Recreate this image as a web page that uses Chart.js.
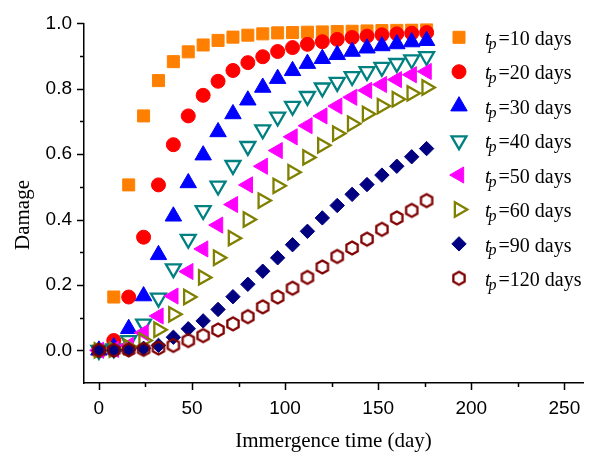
<!DOCTYPE html>
<html>
<head>
<meta charset="utf-8">
<script src="https://cdn.jsdelivr.net/npm/chart.js@4.4.1/dist/chart.umd.min.js"></script>
<style>
html,body{margin:0;padding:0;background:#fff;}
#wrap{width:601px;height:453px;position:relative;}
</style>
</head>
<body>
<div id="wrap"><canvas id="c" width="601" height="453"></canvas></div>
<script>
// ---- data ----
const days = [0,8,16,24,32,40,48,56,64,72,80,88,96,104,112,120,128,136,144,152,160,168,176];
const tpDays = [10,20,30,40,50,60,90,120];
const tp10  = [0,0.163,0.506,0.717,0.825,0.883,0.913,0.934,0.948,0.958,0.964,0.968,0.971,0.972,0.973,0.974,0.975,0.976,0.977,0.978,0.979,0.980,0.981];
const tp20  = [0,0.030,0.163,0.346,0.506,0.629,0.717,0.780,0.823,0.856,0.880,0.898,0.914,0.926,0.936,0.944,0.951,0.957,0.961,0.965,0.968,0.970,0.972];
const tp30  = [0,0.010,0.066,0.166,0.292,0.410,0.512,0.597,0.668,0.723,0.765,0.804,0.831,0.855,0.877,0.892,0.904,0.914,0.924,0.931,0.937,0.943,0.947];
const tp40  = [0,0.005,0.030,0.081,0.160,0.250,0.340,0.428,0.503,0.566,0.624,0.675,0.714,0.747,0.777,0.803,0.820,0.838,0.853,0.866,0.878,0.889,0.899];
const tp50  = [0,0.003,0.015,0.054,0.105,0.166,0.241,0.310,0.383,0.446,0.506,0.563,0.611,0.653,0.687,0.717,0.747,0.774,0.795,0.813,0.828,0.843,0.853];
const tp60  = [0,0.002,0.010,0.030,0.063,0.110,0.163,0.223,0.283,0.343,0.400,0.458,0.503,0.545,0.590,0.627,0.663,0.693,0.723,0.747,0.768,0.786,0.804];
const tp90  = [0,0,0.002,0.006,0.015,0.040,0.066,0.090,0.125,0.164,0.202,0.242,0.283,0.323,0.364,0.405,0.443,0.477,0.507,0.536,0.563,0.592,0.617];
const tp120 = [0,0,0.001,0.003,0.007,0.015,0.030,0.045,0.062,0.081,0.103,0.133,0.163,0.190,0.223,0.255,0.287,0.313,0.340,0.370,0.405,0.428,0.458];
const xMajorTicks = [0,50,100,150,200,250];
const xMinorTicks = [25,75,125,175,225];
const yMajorTicks = [0.0,0.2,0.4,0.6,0.8,1.0];
const yMinorTicks = [0.1,0.3,0.5,0.7,0.9];
const xTitle = 'Immergence time (day)';
const yTitle = 'Damage';

// ---- styles ----
function makeHex(R, color, lw){
  const s = 20;
  const c = document.createElement('canvas');
  c.width = s; c.height = s;
  const g = c.getContext('2d');
  g.strokeStyle = color; g.lineWidth = lw; g.lineJoin = 'miter';
  g.beginPath();
  for (let i = 0; i < 6; i++) {
    const a = -Math.PI/2 + i*Math.PI/3;
    const px = s/2 + R*Math.cos(a), py = s/2 + R*Math.sin(a);
    if (i) g.lineTo(px, py); else g.moveTo(px, py);
  }
  g.closePath(); g.stroke();
  return c;
}
const hexImg = makeHex(6.5, '#800000', 2.3);

const seriesValues = [tp10, tp20, tp30, tp40, tp50, tp60, tp90, tp120];
const markerStyles = [
  {style:'rect', rot:0, r:8.5, fill:'#FF8000', stroke:'#FF8000', bw:1},
  {style:'circle', rot:0, r:7.0, fill:'#FF0000', stroke:'#FF0000', bw:1},
  {style:'triangle', rot:0, r:9.5, fill:'#0000FF', stroke:'#0000FF', bw:1},
  {style:'triangle', rot:180, r:8.6, fill:'rgba(0,0,0,0)', stroke:'#008080', bw:2.3},
  {style:'triangle', rot:270, r:9.3, fill:'#FF00FF', stroke:'#FF00FF', bw:1},
  {style:'triangle', rot:90, r:8.3, fill:'rgba(0,0,0,0)', stroke:'#808000', bw:2.3},
  {style:'rectRot', rot:0, r:7.2, fill:'#000080', stroke:'#000080', bw:1},
  {style:hexImg, rot:0, r:7, fill:'rgba(0,0,0,0)', stroke:'#800000', bw:0}
];

const datasets = seriesValues.map((vals, i) => {
  const m = markerStyles[i];
  return {
    label: 'tp=' + tpDays[i] + ' days',
    data: days.map((d, j) => ({x: d, y: vals[j]})),
    showLine: false,
    pointStyle: m.style,
    pointRotation: m.rot,
    pointRadius: m.r,
    pointHoverRadius: m.r,
    pointBackgroundColor: m.fill,
    pointBorderColor: m.stroke,
    pointBorderWidth: m.bw,
    order: seriesValues.length - i
  };
});

const SANS = '"Liberation Sans", Arial, sans-serif';
const SERIF = '"Liberation Serif", "Times New Roman", serif';

const decoPlugin = {
  id: 'deco',
  afterDraw(chart) {
    const ctx = chart.ctx;
    const xs = chart.scales.x, ys = chart.scales.y;
    const left = chart.chartArea.left, bottom = chart.chartArea.bottom;
    ctx.save();
    ctx.strokeStyle = '#000'; ctx.lineWidth = 1.5;
    ctx.beginPath();
    yMajorTicks.forEach(v => { const p = Math.round(ys.getPixelForValue(v)) + 0.5; ctx.moveTo(left, p); ctx.lineTo(left - 7, p); });
    yMinorTicks.forEach(v => { const p = Math.round(ys.getPixelForValue(v)) + 0.5; ctx.moveTo(left, p); ctx.lineTo(left - 4, p); });
    xMajorTicks.forEach(v => { const p = Math.round(xs.getPixelForValue(v)) + 0.5; ctx.moveTo(p, bottom); ctx.lineTo(p, bottom + 7); });
    xMinorTicks.forEach(v => { const p = Math.round(xs.getPixelForValue(v)) + 0.5; ctx.moveTo(p, bottom); ctx.lineTo(p, bottom + 4); });
    ctx.stroke();

    // axis titles
    ctx.fillStyle = '#000';
    ctx.font = '21px ' + SERIF;
    ctx.textAlign = 'center'; ctx.textBaseline = 'alphabetic';
    ctx.fillText(xTitle, (chart.chartArea.left + chart.chartArea.right) / 2, 447);
    ctx.save();
    ctx.translate(29, 215);
    ctx.rotate(-Math.PI / 2);
    ctx.fillText(yTitle, 0, 0);
    ctx.restore();

    // legend
    chart.data.datasets.forEach((ds, i) => {
      const cy = 37.3 + i * 34.43;
      const mx = 459;
      const m = markerStyles[i];
      ctx.save();
      ctx.fillStyle = m.fill; ctx.strokeStyle = m.stroke; ctx.lineWidth = m.bw;
      if (Chart.helpers && Chart.helpers.drawPoint) {
        Chart.helpers.drawPoint(ctx, {pointStyle: m.style, rotation: m.rot, radius: m.r, borderWidth: m.bw}, mx, cy);
      }
      ctx.restore();
      ctx.fillStyle = '#000'; ctx.textAlign = 'left'; ctx.textBaseline = 'alphabetic';
      ctx.font = 'italic 20px ' + SERIF;
      ctx.fillText('t', 485, cy + 7.7);
      ctx.font = 'italic 16px ' + SERIF;
      ctx.fillText('p', 488.5, cy + 11.5);
      ctx.font = '20px ' + SERIF;
      ctx.fillText('=' + tpDays[i] + ' days', 498.5, cy + 7.7);
    });
    ctx.restore();
  }
};

new Chart(document.getElementById('c'), {
  type: 'scatter',
  data: { datasets },
  options: {
    responsive: false,
    animation: false,
    devicePixelRatio: 1,
    layout: { padding: { left: 0, right: 18, top: 19, bottom: 0 } },
    plugins: { legend: { display: false }, tooltip: { enabled: false } },
    scales: {
      x: {
        type: 'linear', min: -8, max: 260,
        afterBuildTicks: s => { s.ticks = xMajorTicks.map(v => ({value: v})); },
        afterFit: s => { s.height = 70; },
        grid: { display: false, drawTicks: false },
        border: { display: true, color: '#000', width: 1.5 },
        ticks: { padding: 14, color: '#000', font: { family: SANS, size: 19 }, callback: v => String(v) }
      },
      y: {
        type: 'linear', min: -0.1, max: 1.0,
        afterBuildTicks: s => { s.ticks = yMajorTicks.map(v => ({value: v})); },
        afterFit: s => { s.width = 84; },
        grid: { display: false, drawTicks: false },
        border: { display: true, color: '#000', width: 1.5 },
        ticks: { padding: 12, color: '#000', font: { family: SANS, size: 19 }, callback: v => Number(v).toFixed(1) }
      }
    }
  },
  plugins: [decoPlugin]
});
</script>
</body>
</html>
